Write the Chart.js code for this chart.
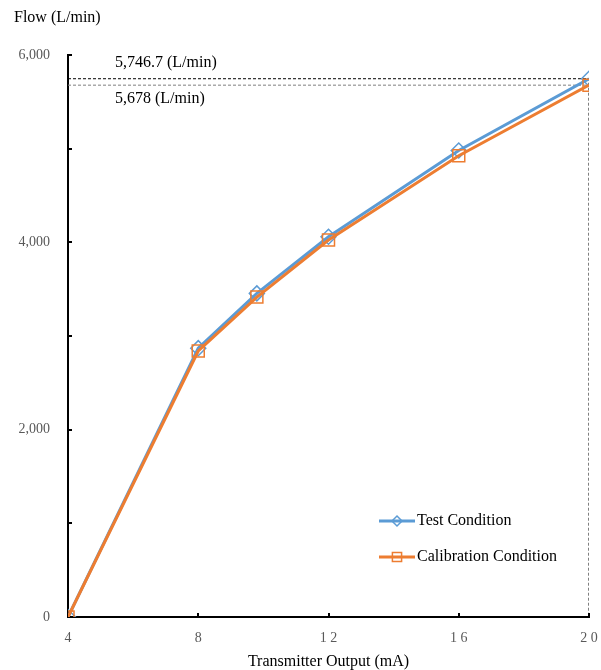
<!DOCTYPE html>
<html>
<head>
<meta charset="utf-8">
<script src="https://cdn.jsdelivr.net/npm/chart.js@4.4.0/dist/chart.umd.min.js"></script>
<style>
  html, body { margin: 0; padding: 0; background: #fff; }
  #wrap { width: 601px; height: 670px; }
</style>
</head>
<body>
<div id="wrap"><canvas id="myChart" width="601" height="670"></canvas></div>
<script>
// data
const outputMA = [4, 8, 9.8, 12, 16, 20]
const testFlow = [0, 2870, 3455, 4060, 4980, 5746.7]
const calibFlow = [0, 2840, 3416, 4025, 4925, 5678]
const testMax = 5746.7
const calibMax = 5678
const xTicks = [4, 8, 12, 16, 20]

const BLUE = '#5b9bd5'
const ORANGE = '#ed7d31'
const SERIF = "'Liberation Serif', 'Times New Roman', serif"

function pts(xs, ys) {
  return xs.map((x, i) => ({x: x, y: ys[i]}))
}

// extra text, inner ticks and legend
const extras = {
  id: 'extras',
  afterDraw(chart) {
    const ctx = chart.ctx
    const xs = chart.scales.x, ys = chart.scales.y
    const area = chart.chartArea
    ctx.save()
    ctx.strokeStyle = '#000'
    ctx.lineWidth = 2
    // inside ticks on y axis
    for (let v = 1000; v <= 6000; v += 1000) {
      const py = Math.round(ys.getPixelForValue(v))
      ctx.beginPath(); ctx.moveTo(area.left, py); ctx.lineTo(area.left + 4, py); ctx.stroke()
    }
    // inside ticks on x axis
    xTicks.forEach(t => {
      if (t === 4) return
      const px = Math.round(xs.getPixelForValue(t))
      ctx.beginPath(); ctx.moveTo(px, area.bottom); ctx.lineTo(px, area.bottom - 4); ctx.stroke()
    })

    ctx.fillStyle = '#000'
    ctx.textBaseline = 'middle'
    ctx.textAlign = 'left'
    ctx.font = '16px ' + SERIF
    ctx.fillText('Flow (L/min)', 14, 18)
    ctx.fillText('5,746.7 (L/min)', 115, 63)
    ctx.fillText('5,678 (L/min)', 115, 99)
    ctx.textAlign = 'center'
    ctx.fillText('Transmitter Output (mA)', (area.left + area.right) / 2, 662)

    // legend
    const items = [
      {label: 'Test Condition', color: BLUE, style: 'rectRot', r: 5},
      {label: 'Calibration Condition', color: ORANGE, style: 'rect', r: 6.5}
    ]
    items.forEach((it, i) => {
      const y = 521 + i * 36
      ctx.strokeStyle = it.color
      ctx.lineWidth = 3
      ctx.beginPath(); ctx.moveTo(379, y); ctx.lineTo(415, y); ctx.stroke()
      ctx.fillStyle = 'rgba(255,255,255,0)'
      ctx.lineWidth = 1.5
      Chart.helpers.drawPoint(ctx, {pointStyle: it.style, radius: it.r, rotation: 0, borderWidth: 1.5}, 397, y)
      ctx.fillStyle = '#000'
      ctx.textAlign = 'left'
      ctx.fillText(it.label, 417, y)
    })
    ctx.restore()
  }
}

const ctx = document.getElementById('myChart').getContext('2d')
const chart = new Chart(ctx, {
  type: 'scatter',
  data: {
    datasets: [
      {
        label: 'max test',
        data: [{x: 4, y: testMax}, {x: 20, y: testMax}, {x: 20, y: 0}],
        showLine: true, borderColor: '#000', borderWidth: 1, borderDash: [3, 2],
        pointRadius: 0, fill: false, order: 4
      },
      {
        label: 'max calib',
        data: [{x: 4, y: calibMax}, {x: 20, y: calibMax}],
        showLine: true, borderColor: '#7f7f7f', borderWidth: 1, borderDash: [3, 2],
        pointRadius: 0, fill: false, order: 3
      },
      {
        label: 'Test Condition',
        data: pts(outputMA, testFlow),
        showLine: true, borderColor: BLUE, borderWidth: 3,
        pointStyle: 'rectRot', pointRadius: 7.5, pointBorderWidth: 1.5,
        pointBackgroundColor: 'rgba(255,255,255,0)', pointBorderColor: BLUE, order: 2
      },
      {
        label: 'Calibration Condition',
        data: pts(outputMA, calibFlow),
        showLine: true, borderColor: ORANGE, borderWidth: 3,
        pointStyle: 'rect', pointRadius: 8.5, pointBorderWidth: 1.5,
        pointBackgroundColor: 'rgba(255,255,255,0)', pointBorderColor: ORANGE, order: 1
      }
    ]
  },
  options: {
    responsive: false,
    animation: false,
    layout: {padding: {top: 55, right: 0, left: 0, bottom: 0}},
    plugins: {
      legend: {display: false},
      tooltip: {enabled: false}
    },
    scales: {
      x: {
        type: 'linear', min: 4, max: 20,
        afterBuildTicks: s => { s.ticks = xTicks.map(v => ({value: v})) },
        afterFit: s => { s.height = 53; s.paddingRight = 12; s.paddingLeft = 0 },
        grid: {display: false, tickLength: 0},
        border: {display: true, color: '#000', width: 2},
        ticks: {
          padding: 13, color: '#595959',
          font: {family: SERIF, size: 14},
          maxRotation: 0,
          callback: v => String(v).split('').join(' ')
        }
      },
      y: {
        min: 0, max: 6000,
        afterFit: s => { s.width = 68 },
        grid: {display: false, tickLength: 0},
        border: {display: true, color: '#000', width: 2},
        ticks: {
          stepSize: 2000, padding: 18, color: '#595959',
          font: {family: SERIF, size: 14},
          callback: v => v.toLocaleString('en-US')
        }
      }
    }
  },
  plugins: [extras]
})
</script>
</body>
</html>
